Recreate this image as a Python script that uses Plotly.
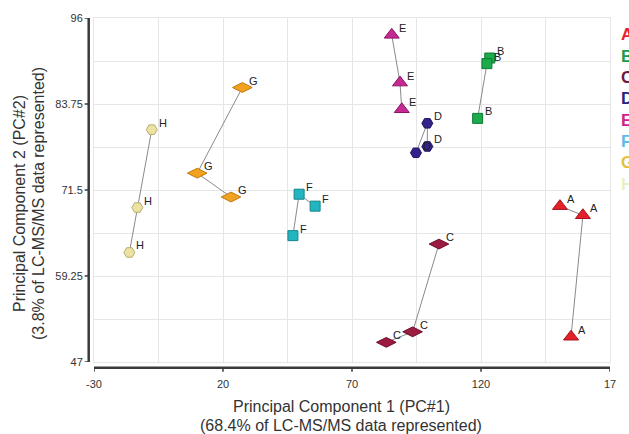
import plotly.graph_objects as go

# ---- data ----
groups = ["A", "B", "C", "D", "E", "F", "G", "H"]
A_x = [150.6, 159.5, 154.9]; A_y = [69.2, 67.9, 50.6]
B_x = [123.4, 122.3, 118.7]; B_y = [90.3, 89.5, 81.7]
C_x = [103.7, 93.5, 83.3];   C_y = [63.8, 51.3, 49.8]
D_x = [94.8, 99.2, 99.2];    D_y = [76.8, 81.0, 77.7]
E_x = [85.4, 88.6, 89.3];    E_y = [93.6, 86.8, 83.0]
F_x = [55.7, 49.5, 47.1];    F_y = [69.2, 70.9, 65.0]
G_x = [27.5, 10.0, 23.1];    G_y = [86.1, 73.9, 70.5]
H_x = [-7.6, -13.2, -16.3];  H_y = [80.1, 69.0, 62.6]

x_tickvals = [-30, 20, 70, 120, 170]
x_ticktext = ["-30", "20", "70", "120", "17"]
y_tickvals = [47, 59.25, 71.5, 83.75, 96]
y_ticktext = ["47", "59.25", "71.5", "83.75", "96"]

xs = [A_x, B_x, C_x, D_x, E_x, F_x, G_x, H_x]
ys = [A_y, B_y, C_y, D_y, E_y, F_y, G_y, H_y]

# ---- styles ----
symbols = ["triangle-up", "square", "diamond-wide", "hexagon2",
           "triangle-up", "square", "diamond-wide", "hexagon2"]
sizes = [13, 10, 14, 11, 13, 10, 14, 11]
fills = ["#e32129", "#1bab4b", "#9c1b40", "#34228a",
         "#c42a92", "#22b5bf", "#f2a21f", "#ece3a3"]
edges = ["#a5101c", "#0f7a33", "#6a0f2a", "#1e1460",
         "#8a1565", "#14858d", "#c07a10", "#b8ad70"]
legend_colors = ["#e8202e", "#1a9a4a", "#6d1a42", "#2c2183",
                 "#d0218b", "#62b9e8", "#e3c13f", "#e9f0c3"]

fig = go.Figure()
annots = []
for g, x, y, sym, sz, fc, ec in zip(groups, xs, ys, symbols, sizes, fills, edges):
    fig.add_trace(go.Scatter(
        x=x, y=y, mode="lines+markers",
        line=dict(color="#8a8a8a", width=1),
        marker=dict(symbol=sym, size=sz, color=fc, line=dict(color=ec, width=1)),
        showlegend=False, cliponaxis=False, hoverinfo="skip",
    ))
    for xv, yv in zip(x, y):
        annots.append(dict(x=xv, y=yv, xref="x", yref="y", text=g, showarrow=False,
                           xanchor="left", yanchor="middle", xshift=5, yshift=7,
                           font=dict(family="Liberation Sans, Arial", size=11, color="#222")))

grid = "#e6e6e6"
fig.update_xaxes(
    range=[-30, 170], tickvals=x_tickvals, ticktext=x_ticktext,
    showgrid=True, gridcolor=grid, gridwidth=1, zeroline=False,
    showline=True, linecolor=grid, linewidth=1, mirror=True,
    minor=dict(dtick=25, tick0=-30, showgrid=True, gridcolor=grid, gridwidth=1),
    ticks="", ticklabelstandoff=12,
    tickfont=dict(family="Liberation Sans, Arial", size=11, color="#333"),
)
fig.update_yaxes(
    range=[47, 96], tickvals=y_tickvals, ticktext=y_ticktext,
    showgrid=True, gridcolor=grid, gridwidth=1, zeroline=False,
    showline=True, linecolor=grid, linewidth=1, mirror=True,
    minor=dict(dtick=6.125, tick0=47, showgrid=True, gridcolor=grid, gridwidth=1),
    ticks="", ticklabelstandoff=8,
    tickfont=dict(family="Liberation Sans, Arial", size=11, color="#333"),
)

W, H = 629, 434
L, R, T, B = 94, 19, 18, 72
pw, ph = W - L - R, H - T - B

shapes = []
axc = "#3a3a3a"
lx = -5.3 / pw
by = -5.7 / ph
shapes.append(dict(type="line", xref="paper", yref="paper", x0=lx, x1=lx, y0=0, y1=1,
                   line=dict(color=axc, width=2.5)))
shapes.append(dict(type="line", xref="paper", yref="paper", x0=0, x1=1, y0=by, y1=by,
                   line=dict(color=axc, width=2.5)))
for v in x_tickvals:
    shapes.append(dict(type="line", xref="x", yref="paper", x0=v, x1=v,
                       y0=by, y1=by - 4 / ph, line=dict(color=axc, width=1.5)))
for v in y_tickvals:
    shapes.append(dict(type="line", xref="paper", yref="y", x0=lx, x1=lx - 4 / pw,
                       y0=v, y1=v, line=dict(color=axc, width=1.5)))

tf = dict(family="Liberation Sans, Arial", size=16, color="#333")
annots.append(dict(xref="paper", yref="paper", x=(341 - L) / pw, y=-(406 - (T + ph)) / ph,
                   text="Principal Component 1 (PC#1)", showarrow=False, font=tf,
                   xanchor="center", yanchor="middle"))
annots.append(dict(xref="paper", yref="paper", x=(341 - L) / pw, y=-(425 - (T + ph)) / ph,
                   text="(68.4% of LC-MS/MS data represented)", showarrow=False, font=tf,
                   xanchor="center", yanchor="middle"))
annots.append(dict(xref="paper", yref="paper", x=-(L - 19) / pw, y=1 - (204 - T) / ph,
                   text="Principal Component 2 (PC#2)", showarrow=False, font=tf,
                   textangle=-90, xanchor="center", yanchor="middle"))
annots.append(dict(xref="paper", yref="paper", x=-(L - 38) / pw, y=1 - (204 - T) / ph,
                   text="(3.8% of LC-MS/MS data represented)", showarrow=False, font=tf,
                   textangle=-90, xanchor="center", yanchor="middle"))
for i, (g, c) in enumerate(zip(groups, legend_colors)):
    annots.append(dict(xref="paper", yref="paper", x=(619 - L) / pw,
                       y=1 - (35 + i * 21.3 - T) / ph, text="<b>%s</b>" % g,
                       showarrow=False, xanchor="left", yanchor="middle",
                       font=dict(family="Liberation Sans, Arial", size=17, color=c)))

fig.update_layout(
    width=W, height=H, margin=dict(l=L, r=R, t=T, b=B),
    paper_bgcolor="white", plot_bgcolor="white",
    shapes=shapes, annotations=annots, hovermode=False,
)
fig.write_html("out.html", config={"displayModeBar": False},
               post_script="document.body.style.margin='0';document.body.style.overflow='hidden';")
